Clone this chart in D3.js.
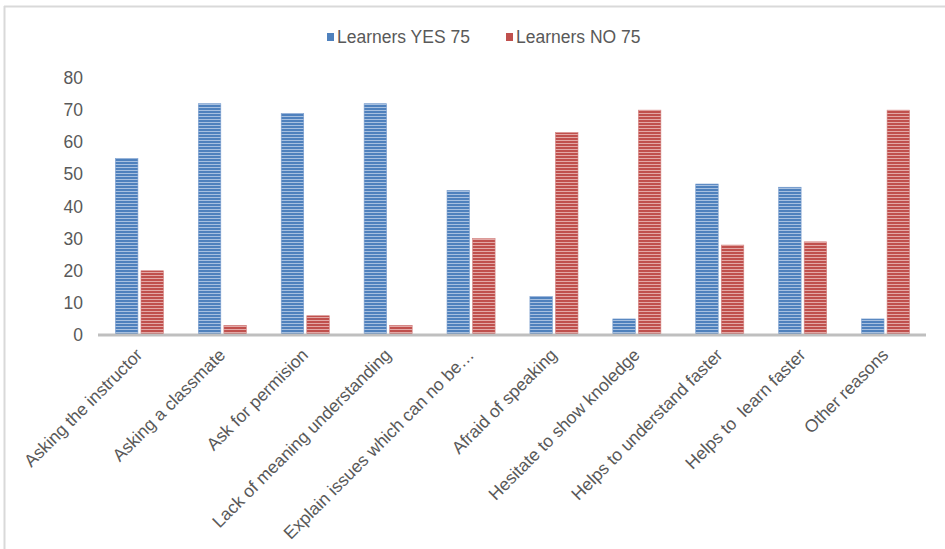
<!DOCTYPE html>
<html lang="en">
<head>
    <meta charset="UTF-8">
    <title>Learners YES / NO</title>
    <script src="https://d3js.org/d3.v7.min.js"></script>
    <style>
        body { margin: 0; background: #fff; }
        text { font-family: "Liberation Sans", Arial, sans-serif; fill: #595959; white-space: pre; }
    </style>
</head>
<body>
    <div id="chart"></div>
    <script>
        // data
        const categories = [
            "Asking the instructor", "Asking a classmate", "Ask for permision",
            "Lack of meaning understanding", "Explain issues which can no be\u2026",
            "Afraid of speaking", "Hesitate to show knoledge", "Helps to understand faster",
            "Helps to  learn faster", "Other reasons"
        ];
        const yesValues = [55, 72, 69, 72, 45, 12, 5, 47, 46, 5];
        const noValues = [20, 3, 6, 3, 30, 63, 70, 28, 29, 70];
        const seriesNames = ["Learners YES 75", "Learners NO 75"];
        const yTicks = [0, 10, 20, 30, 40, 50, 60, 70, 80];

        const W = 945, H = 549;
        const margin = { top: 78, right: 18, bottom: 215, left: 98 };
        const fontSize = "17.5px";

        const svg = d3.select("#chart").append("svg")
            .attr("width", W).attr("height", H);

        // striped fills
        const defs = svg.append("defs");
        const fills = [
            { id: "stripeBlue", base: "#4f81bd", light: "#a7c0e0" },
            { id: "stripeRed", base: "#c0504d", light: "#e3a8a6" }
        ];
        fills.forEach(f => {
            const p = defs.append("pattern").attr("id", f.id)
                .attr("patternUnits", "userSpaceOnUse")
                .attr("width", 6).attr("height", 3);
            p.append("rect").attr("width", 6).attr("height", 3).attr("fill", f.base);
            p.append("rect").attr("y", 2).attr("width", 6).attr("height", 1).attr("fill", f.light);
        });

        // chart frame
        svg.append("line").attr("x1", 4.5).attr("x2", 4.5).attr("y1", 6).attr("y2", H)
            .attr("stroke", "#d9d9d9").attr("stroke-width", 2);
        svg.append("line").attr("x1", 4).attr("x2", W).attr("y1", 6.5).attr("y2", 6.5)
            .attr("stroke", "#d9d9d9").attr("stroke-width", 2);

        const x0 = d3.scaleBand().domain(categories)
            .range([margin.left, W - margin.right]).paddingInner(0.42).paddingOuter(0.21);
        const x1 = d3.scaleBand().domain([0, 1]).range([0, x0.bandwidth()]).paddingInner(0.12);
        const y = d3.scaleLinear().domain([0, 80]).range([H - margin.bottom + 1, margin.top]);

        // y axis labels
        const yAxis = svg.append("g")
            .attr("transform", `translate(${margin.left - 15},0)`)
            .call(d3.axisLeft(y).tickValues(yTicks).tickSize(0).tickPadding(0));
        yAxis.select(".domain").remove();
        yAxis.selectAll("text").style("font-size", fontSize).attr("fill", "#595959");

        // bars
        const rows = categories.map((c, i) => ({ cat: c, vals: [yesValues[i], noValues[i]] }));
        const groups = svg.selectAll("g.cat").data(rows).enter().append("g")
            .attr("class", "cat")
            .attr("transform", d => `translate(${x0(d.cat)},0)`);
        groups.selectAll("rect").data(d => d.vals).enter().append("rect")
            .attr("x", (d, i) => x1(i))
            .attr("width", x1.bandwidth())
            .attr("y", d => y(d))
            .attr("height", d => y(0) - y(d))
            .attr("fill", (d, i) => `url(#${fills[i].id})`)
            .attr("stroke", (d, i) => i === 0 ? "#7da0cf" : "#d48381")
            .attr("stroke-width", 0.6);

        // x axis
        const xAxis = svg.append("g")
            .attr("transform", `translate(0,${y(0)})`)
            .call(d3.axisBottom(x0).tickSize(0).tickPadding(0));
        xAxis.select(".domain").attr("stroke", "#bfbfbf").attr("stroke-width", 3)
            .attr("d", `M${margin.left},0H${W - margin.right - 1}`);
        xAxis.selectAll("text")
            .style("font-size", fontSize)
            .attr("fill", "#595959")
            .attr("text-anchor", "end")
            .attr("dy", 0).attr("y", 0)
            .attr("transform", "translate(4,21) rotate(-45)");

        // legend
        const legend = svg.append("g").attr("transform", "translate(327,33)");
        const legX = [0, 179];
        seriesNames.forEach((name, i) => {
            const g = legend.append("g").attr("transform", `translate(${legX[i]},0)`);
            g.append("rect").attr("width", 7).attr("height", 8)
                .attr("fill", fills[i].base);
            g.append("text").attr("x", 10).attr("y", 10)
                .style("font-size", fontSize).text(name);
        });
    </script>
</body>
</html>
